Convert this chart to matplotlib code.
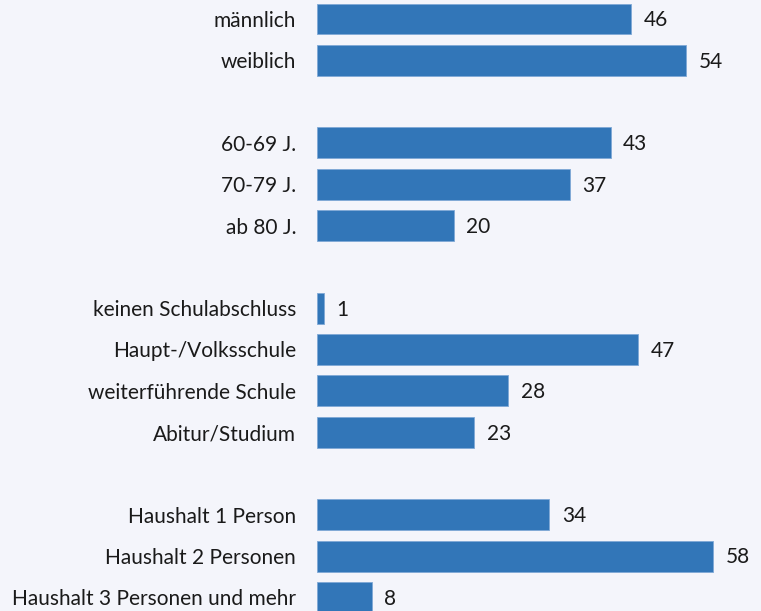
import numpy as np
import matplotlib.pyplot as plt

# Kategorien und Werte (in %)
labels = ['männlich', 'weiblich',
          '60-69 J.', '70-79 J.', 'ab 80 J.',
          'keinen Schulabschluss', 'Haupt-/Volksschule', 'weiterführende Schule', 'Abitur/Studium',
          'Haushalt 1 Person', 'Haushalt 2 Personen', 'Haushalt 3 Personen und mehr']
values = [46, 54, 43, 37, 20, 1, 47, 28, 23, 34, 58, 8]
group_sizes = [2, 3, 4, 3]

# Positionen mit einer Leerzeile zwischen den Gruppen
pos = []
start = 0
for n in group_sizes:
    pos += list(range(start, start + n))
    start += n + 1
pos = np.array(pos)

bg = '#f4f5fb'
bar_color = '#3276b8'

plt.rcParams['font.family'] = ['Lato', 'DejaVu Sans']

fig = plt.figure(figsize=(7.61, 6.11), dpi=100, facecolor=bg)
ax = fig.add_axes([317 / 761, 0, 444 / 761, 1])
ax.set_facecolor(bg)

ax.barh(pos, values, height=0.75, color=bar_color, edgecolor='#7fa9d6', linewidth=0.6)

for p, v in zip(pos, values):
    ax.annotate(str(v), (v, p), xytext=(9, -1), textcoords='offset points',
                va='center', ha='left', fontsize=15, color='#1a1a1a')

ax.set_xlim(0, 444 / 6.83)
ax.set_ylim(14.33, -0.46)
ax.set_yticks(pos)
ax.set_yticklabels(labels, fontsize=15, color='#1a1a1a')
ax.tick_params(axis='y', length=0, pad=15)
ax.set_xticks([])
for s in ax.spines.values():
    s.set_visible(False)

fig.savefig('out.png', dpi=100, facecolor=bg)
